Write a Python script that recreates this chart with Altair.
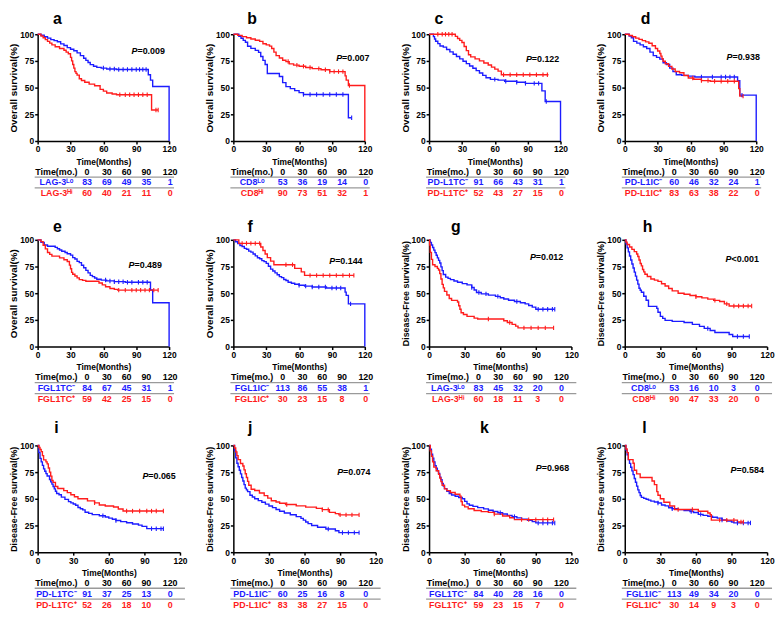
import altair as alt
import pandas as pd

BLUE = "#1c1cff"
RED = "#ff1c1c"
FONT = "Liberation Sans"

# ---------------- Kaplan-Meier step points (month, survival %) ----------------
A_LO = [(0,100),(3,99),(6,97.6),(9,96.4),(12,95),(15,94),(18,93),(21,91),(24,89.5),(27,87.5),(30,86),(33,84.5),(36,82.5),(39,80),(42,77.5),(44,75.5),(46,73.5),(48,71.5),(51,70),(54,69),(58,68.3),(63,67.5),(72,67),(101,62),(103,57),(105,51),(120,0)]
A_HI = [(0,100),(3,98.3),(5,96.7),(7,95),(9,93.3),(11,91.7),(13,90),(16,88.3),(20,86.7),(24,85),(26,83.3),(28,81.7),(30,78.3),(31,75),(32,71.7),(33,68.3),(34,65),(35,63.3),(36,61.7),(38,58.3),(40,56.7),(43,55),(47,53.3),(52,51.7),(57,48.3),(60,46.7),(63,45),(68,44),(72,43.3),(104,29),(110,29)]
B_LO = [(0,100),(5,98.1),(7,96.2),(9,94.3),(11,92.5),(13,88.7),(16,86.8),(20,84.9),(23,83),(25,79.2),(27,75.5),(29,71.7),(31,63.2),(42,60.4),(45,54.7),(48,50.9),(52,49),(56,47.2),(60,45.3),(64,43.6),(105,21.8),(108,21.8)]
B_HI = [(0,100),(4,98.9),(8,97.8),(12,96.7),(16,95.6),(20,94.4),(24,93.3),(27,91.1),(30,90),(33,88.9),(35,86.7),(37,83.3),(39,80),(42,77.8),(45,75.6),(48,74.4),(51,72.2),(55,71.1),(60,70),(66,68.9),(72,67.8),(80,66.7),(88,65),(102,61),(103,57),(105,52),(120,0)]
C_LO = [(0,100),(4,97.8),(5,95.6),(6,93.4),(8,91.2),(10,89),(13,87.9),(16,85.7),(19,83.5),(22,81.3),(25,79.1),(28,76.9),(31,74.7),(34,72.5),(37,70.3),(40,68.1),(43,65.9),(46,63.7),(49,61.5),(52,59.3),(56,57.7),(63,57),(69,56),(80,55),(88,54),(103,47),(106,37),(120,0)]
C_HI = [(0,100),(24,98),(26,96),(28,94.2),(30,92.3),(32,88.5),(34,84.6),(36,80.8),(38,78.8),(42,76.9),(46,75),(50,73.1),(54,71.2),(57,69.2),(60,67.3),(63,65.4),(66,62),(109,62)]
D_LO = [(0,100),(4,98.3),(6,96.7),(8,93.3),(11,91.7),(14,90),(17,88.3),(20,86.7),(23,83.3),(26,80),(29,78.3),(32,76.7),(35,73.3),(38,71.7),(41,68.3),(44,65),(47,62),(52,61.5),(58,60.8),(64,60),(103,56.5),(105,43),(120,0)]
D_HI = [(0,100),(4,98.8),(7,97.6),(10,96.4),(13,95.2),(16,94),(19,92.8),(22,91.6),(25,89.2),(28,86.7),(30,84.3),(32,81.9),(33,79.5),(34,77.1),(35,74.7),(37,72.3),(40,69.9),(43,67.5),(46,65.1),(50,63.9),(54,61.4),(58,59),(63,57.8),(70,56.6),(78,56),(104,49),(105,42),(108,42)]
E_LO = [(0,100),(3,97.6),(6,95.2),(9,94),(16,92.9),(18,91.7),(20,90.5),(22,89.3),(25,88.1),(27,86.9),(30,85.7),(32,83.3),(34,82.1),(36,79.8),(38,78.6),(40,76.2),(42,73.8),(44,71.4),(46,69),(48,66.7),(50,65.5),(52,64.3),(54,63.1),(58,62.3),(63,61.5),(70,60.8),(80,60.2),(103,53),(105,41),(120,0)]
E_HI = [(0,100),(3,98.3),(5,94.9),(7,91.5),(9,88.1),(11,86.4),(13,84.7),(20,83.1),(24,81.4),(27,79.7),(29,76.3),(30,72.9),(31,69.5),(32,67.8),(34,66.1),(36,64.4),(38,62.7),(41,62),(44,61.2),(56,59.5),(59,57.8),(62,56.1),(66,54.4),(70,53.6),(73,52.9),(110,52.9)]
F_LO = [(0,100),(2,98.2),(4,96.5),(6,94.7),(8,93.8),(10,92),(12,91.2),(14,89.4),(16,88.5),(18,86.7),(20,85),(22,83.2),(24,82.3),(26,80.5),(28,79.6),(30,77.9),(32,75.2),(34,72.6),(36,70.8),(38,69),(40,67.3),(42,65.5),(44,64.6),(46,62.8),(48,61.9),(50,60.2),(53,59.3),(56,58.4),(60,57.5),(65,56.6),(72,55.8),(85,54.9),(102,51),(103,48),(105,40),(120,0)]
F_HI = [(0,100),(5,96.7),(25,93.3),(27,90),(29,86.7),(31,83.3),(34,80),(37,76.7),(56,73.3),(62,70),(65,66.7),(110,66.7)]
G_LO = [(0,100),(1,97.6),(2,95.2),(3,92.8),(4,90.4),(5,88),(6,85.5),(7,83.1),(8,80.7),(9,78.3),(10,74.7),(11,71.1),(12,67.5),(14,65.1),(16,63.9),(18,62.7),(21,61.4),(24,60.2),(28,59),(32,57.8),(36,55.4),(38,53),(40,50.6),(44,49.4),(50,48.2),(56,47),(60,45.8),(63,44.6),(67,43.4),(72,42.2),(77,41),(81,40),(84,38.5),(87,37),(90,35),(106,35)]
G_HI = [(0,100),(0.5,95),(1,88.3),(2,81.7),(3,76.7),(5,75),(7,73.3),(8,71.7),(9,68.3),(10,63.3),(11,58.3),(12,55),(13,51.7),(15,48.3),(17,45),(19,43.3),(24,41.7),(25,38.3),(26,35),(27,31.7),(29,30),(32,28.3),(38,26.7),(41,25.8),(63,24.2),(66,22.5),(70,20.8),(73,19.2),(75,17.5),(105,17.5)]
H_LO = [(0,100),(1,96.2),(2,92.5),(3,88.7),(4,84.9),(5,81.1),(6,77.4),(7,73.6),(8,69.8),(9,66),(10,62.3),(11,58.5),(12,54.7),(13,52.8),(14,50.9),(16,47.2),(18,43.4),(20,37.7),(27,35.8),(28,32.1),(30,28.3),(32,26.4),(34,24.5),(40,23.6),(50,22.6),(57,20.8),(63,18.9),(67,17),(72,15.1),(76,13.2),(88,11.3),(91,9.4),(105,9.4)]
H_HI = [(0,100),(1,97.8),(2,95.6),(4,93.3),(6,91.1),(8,88.9),(10,86.7),(11,84.4),(12,81.1),(13,77.8),(14,75.6),(15,72.2),(16,70),(17,67.8),(19,65.6),(22,63.3),(25,62.2),(28,61.1),(31,58.9),(34,56.7),(37,54.4),(40,52.2),(45,50),(50,49),(55,47.8),(60,46.7),(65,45.6),(70,44.4),(75,43.3),(80,42.2),(84,40),(88,38),(107,38)]
I_LO = [(0,100),(1,93.4),(2,87.9),(3,84.6),(4,81.3),(5,78),(6,75.8),(7,73.6),(8,71.4),(10,68.1),(11,65.9),(12,63.7),(13,61.5),(14,59.3),(15,57.1),(16,55),(18,53.8),(20,51.6),(23,49.5),(26,47.3),(28,46.2),(30,45.1),(32,44),(34,41.8),(36,40.7),(38,39.6),(40,37.4),(43,36.3),(46,35.2),(52,34.1),(57,33),(60,31.9),(63,30.8),(66,29.7),(70,28.6),(75,27.5),(80,26.4),(85,25.3),(88,24.2),(92,22),(106,22)]
I_HI = [(0,100),(1,98.1),(2,96.2),(3,94.2),(4,90.4),(5,86.5),(7,84.6),(8,82.7),(9,78.8),(10,75),(11,71.2),(12,67.3),(13,65.4),(15,61.5),(17,59.6),(22,57.7),(25,55.8),(28,53.8),(31,51.9),(34,50),(42,48.1),(48,46.2),(52,44.2),(57,43.3),(64,42.3),(68,40.4),(72,38.5),(106,38.5)]
J_LO = [(0,100),(1,95),(2,88.3),(3,83.3),(4,80),(5,76.7),(6,73.3),(7,70),(8,66.7),(9,63.3),(10,60),(11,58.3),(12,56.7),(14,53.3),(16,51.7),(18,50),(21,48.3),(24,46.7),(27,45),(30,43.3),(33,41.7),(36,40),(39,38.3),(43,36.7),(48,35),(53,33.3),(57,31.7),(59,30),(61,28.3),(63,26.7),(66,25),(71,23.3),(78,21.7),(86,20),(89,18.3),(106,18.3)]
J_HI = [(0,100),(1,97.6),(2,94),(3,90.4),(4,86.7),(6,83.1),(8,80.7),(9,77.1),(10,73.5),(11,69.9),(12,66.3),(13,62.7),(15,59),(18,57.8),(22,55.4),(26,53),(29,50.6),(32,48.2),(36,47),(39,45.8),(44,44.6),(53,43.4),(61,42.2),(70,41),(75,39.8),(81,37.3),(86,36.1),(89,34.9),(106,34.9)]
K_LO = [(0,100),(1,96.4),(2,91.7),(3,88.1),(4,84.5),(5,81),(6,78.6),(7,76.2),(8,73.8),(9,70.2),(10,67.9),(11,64.3),(12,61.9),(13,59.5),(15,57.1),(17,54.8),(19,53.6),(22,52.4),(25,51.2),(28,50),(30,47.6),(32,45.2),(34,44),(37,42.9),(41,41.7),(46,40.5),(50,39.3),(54,38.1),(58,36.9),(62,35.7),(66,34.5),(70,33.3),(74,32.1),(78,31),(83,29.8),(87,28.6),(90,27.4),(106,27.4)]
K_HI = [(0,100),(1,94.9),(2,89.8),(3,84.7),(4,79.7),(6,76.3),(8,72.9),(9,69.5),(10,66.1),(11,62.7),(13,59.3),(15,57.6),(18,55.9),(22,54.2),(26,52.5),(27,47.5),(28,44.1),(30,42.4),(33,40.7),(38,39),(44,38),(50,37.3),(55,35.6),(62,33.9),(68,32.2),(72,30.5),(105,30.5)]
L_LO = [(0,100),(1,95.6),(2,91.2),(3,86.7),(4,83.2),(5,79.6),(6,76.1),(7,72.6),(8,69),(9,65.5),(10,61.9),(11,58.4),(12,55.8),(13,53.1),(14,51.3),(16,50.4),(18,49.6),(20,48.7),(22,47.8),(25,47),(28,46),(31,44.2),(34,43.4),(37,41.6),(40,40.7),(45,39.8),(50,38.9),(55,38.1),(58,37.2),(62,35.4),(66,34.5),(70,33.6),(74,32.7),(78,31.9),(82,30.1),(86,29.2),(90,28.3),(92,27.4),(106,27.4)]
L_HI = [(0,100),(1,96.7),(2,93.3),(3,86.7),(7,83.3),(8,76.7),(10,73.3),(13,70),(23,66.7),(25,63.3),(27,56.7),(28,53.3),(30,50),(33,46.7),(38,43.3),(42,40),(62,38.3),(70,36.7),(72,35),(73,30),(95,28.3),(100,28.3)]

# censoring times (months)
A_LO_C = [60,66,70,74,78,82,86,90,93,96,99]
A_HI_C = [75,80,84,88,92,96,100,108,110]
B_LO_C = [64,70,76,82,88,94,100,108]
B_HI_C = [50,58,64,70,78,84,88,92,96,100,106]
C_LO_C = [60,70,80,88,96,100,107]
C_HI_C = [8,12,15,18,21,68,74,80,86,92,98,104,108]
D_LO_C = [70,80,88,92,96,100,107]
D_HI_C = [62,70,76,82,88,94,100,108]
E_LO_C = [62,66,70,74,78,82,86,92,96,100]
E_HI_C = [74,80,86,90,94,98,102,106,110]
F_LO_C = [60,66,72,78,84,90,94,98,107]
F_HI_C = [8,12,16,20,24,48,54,70,76,82,88,94,100,106,110]
G_LO_C = [36,42,48,58,74,92,96,100,104,106]
G_HI_C = [50,68,80,86,92,98,105]
H_LO_C = [70,95,100,105]
H_HI_C = [60,76,86,92,96,100,104,107]
I_LO_C = [55,66,96,100,104,106]
I_HI_C = [48,75,80,86,92,96,100,106]
J_LO_C = [80,92,97,102,106]
J_HI_C = [45,75,80,90,95,100,106]
K_LO_C = [60,72,92,96,100,104,106]
K_HI_C = [55,78,84,90,96,100,105]
L_LO_C = [28,40,56,64,82,95,100,104,106]
L_HI_C = [45,57,80,86,92,98,100]

# numbers at risk
RISK_LO = [[83,69,49,35,1],[53,36,19,14,0],[91,66,43,31,1],[60,46,32,24,1],
           [84,67,45,31,1],[113,86,55,38,1],[83,45,32,20,0],[53,16,10,3,0],
           [91,37,25,13,0],[60,25,16,8,0],[84,40,28,16,0],[113,49,34,20,0]]
RISK_HI = [[60,40,21,11,0],[90,73,51,32,1],[52,43,27,15,0],[83,63,38,22,0],
           [59,42,25,15,0],[30,23,15,8,0],[60,18,11,3,0],[90,47,33,20,0],
           [52,26,18,10,0],[83,38,27,15,0],[59,23,15,7,0],[30,14,9,3,0]]

LETTERS = list("abcdefghijkl")
LO_LABELS = ["LAG-3ᴸᵒ","CD8ᴸᵒ","PD-L1TC⁻","PD-L1IC⁻","FGL1TC⁻","FGL1IC⁻"] * 2
HI_LABELS = ["LAG-3ᴴⁱ","CD8ᴴⁱ","PD-L1TC⁺","PD-L1IC⁺","FGL1TC⁺","FGL1IC⁺"] * 2
P_TEXT = ["=0.009","=0.007","=0.122","=0.938","=0.489","=0.144",
          "=0.012","<0.001","=0.065","=0.074","=0.968","=0.584"]
CURVES_LO = [A_LO,B_LO,C_LO,D_LO,E_LO,F_LO,G_LO,H_LO,I_LO,J_LO,K_LO,L_LO]
CURVES_HI = [A_HI,B_HI,C_HI,D_HI,E_HI,F_HI,G_HI,H_HI,I_HI,J_HI,K_HI,L_HI]
CENS_LO = [A_LO_C,B_LO_C,C_LO_C,D_LO_C,E_LO_C,F_LO_C,G_LO_C,H_LO_C,I_LO_C,J_LO_C,K_LO_C,L_LO_C]
CENS_HI = [A_HI_C,B_HI_C,C_HI_C,D_HI_C,E_HI_C,F_HI_C,G_HI_C,H_HI_C,I_HI_C,J_HI_C,K_HI_C,L_HI_C]
TIME_TICKS = [0, 30, 60, 90, 120]
SURV_TICKS = [0, 25, 50, 75, 100]

# ---------------- layout (pixels) ----------------
PLOT_H = 108
LETTER_X = [20,19,10,21,20,17,27,23,19,17,56,20]
LETTER_Y = [-10]*4 + [-8]*4 + [-13]*4
P_POS = [(95,17),(104,24),(98,25),(103,23),(92,26),(97,21),
         (102,17),(102,19),(106,31),(105,27),(108,23),(107,25)]
TABLE_LABEL_X = 19
TABLE_COL_X = [50, 70, 90, 110, 134]
TABLE_ROW_Y = [31, 42, 53]
TABLE_RULE_Y = [36.5, 47.5]


def surv_at(points, t):
    v = points[0][1]
    for tt, s in points:
        if tt <= t:
            v = s
    return v


ONE = alt.Data(values=[{}])


def text_at(text, x, y, size, **kw):
    return alt.Chart(ONE).mark_text(
        text=text, font=FONT, fontWeight="bold", fontSize=size, **kw
    ).encode(x=alt.value(x), y=alt.value(y))


def panel(i):
    os_kind = i < 6
    w = 133 if os_kind else 144
    h = PLOT_H
    rows, cens = [], []
    for g, pts, cs in (("lo", CURVES_LO[i], CENS_LO[i]), ("hi", CURVES_HI[i], CENS_HI[i])):
        rows += [{"g": g, "t": t, "s": s} for t, s in pts]
        cens += [{"g": g, "t": t, "s": surv_at(pts, t)} for t in cs]
    curves = pd.DataFrame(rows)
    cdf = pd.DataFrame(cens)

    color = alt.Color("g:N", scale=alt.Scale(domain=["lo", "hi"], range=[BLUE, RED]), legend=None)
    ytitle = "Overall survival(%)" if os_kind else "Disease-Free survival(%)"
    x_enc = alt.X("t:Q", scale=alt.Scale(domain=[0, 120], nice=False),
                  axis=alt.Axis(values=TIME_TICKS, title="Time(Months)", titlePadding=4,
                                labelFlush=False, labelOverlap=False, tickCount=5))
    y_enc = alt.Y("s:Q", scale=alt.Scale(domain=[0, 100], nice=False),
                  axis=alt.Axis(values=SURV_TICKS, title=ytitle, labelOverlap=False, tickCount=5,
                                titleFontSize=10 if os_kind else 9, titlePadding=1))
    lines = alt.Chart(curves).mark_line(interpolate="step-after", strokeWidth=1.4).encode(
        x=x_enc, y=y_enc, color=color, detail="g:N")
    ticks = alt.Chart(cdf).mark_point(shape="M0,-1L0,1", size=20, strokeWidth=1.1,
                                      filled=False, opacity=1).encode(
        x=x_enc, y=y_enc, color=color)

    layers = [lines, ticks]
    layers.append(text_at(LETTERS[i], LETTER_X[i], LETTER_Y[i], 16, align="center", baseline="alphabetic"))
    px, py = P_POS[i]
    layers.append(text_at("P", px, py, 9, align="left", baseline="middle", fontStyle="italic"))
    layers.append(text_at(P_TEXT[i], px + 6, py, 9, align="left", baseline="middle"))

    table_rows = [("Time(mo.)", TIME_TICKS, "black"),
                  (LO_LABELS[i], RISK_LO[i], BLUE),
                  (HI_LABELS[i], RISK_HI[i], RED)]
    for (label, nums, col), ry in zip(table_rows, TABLE_ROW_Y):
        df = pd.DataFrame({"px": [TABLE_LABEL_X] + TABLE_COL_X,
                           "txt": [label] + [str(n) for n in nums]})
        layers.append(alt.Chart(df).mark_text(
            font=FONT, fontWeight="bold", fontSize=9, color=col, baseline="middle", align="center"
        ).encode(x=alt.X("px:Q", scale=None), y=alt.value(h + ry), text="txt:N"))
    for ry in TABLE_RULE_Y:
        layers.append(alt.Chart(ONE).mark_rule(color="#9a9a9a", strokeWidth=1.3).encode(
            x=alt.value(-3), x2=alt.value(w + 5), y=alt.value(h + ry)))

    return alt.layer(*layers).properties(width=w, height=h)


chart = alt.concat(*[panel(i) for i in range(12)], columns=4,
                   spacing={"row": 100, "column": 54}, bounds="flush").properties(
    padding=0
).configure(font=FONT).configure_view(stroke=None).configure_axis(
    domainColor="black", domainWidth=1.5, tickColor="black", tickWidth=1.5, tickSize=3,
    labelFont=FONT, labelFontSize=8.5, labelFontWeight="bold", labelColor="black", labelPadding=1,
    titleFont=FONT, titleFontWeight="bold", titleColor="black", titleFontSize=8.5, grid=False,
    labelOverlap=False,
)

chart.save("out.html", embed_options={"renderer": "svg", "actions": False})
